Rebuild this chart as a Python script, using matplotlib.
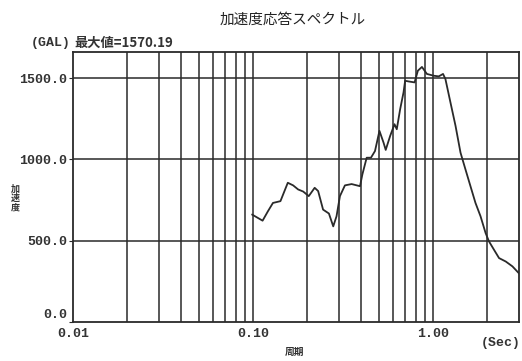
import matplotlib.pyplot as plt
import matplotlib.transforms as mtransforms
import numpy as np

plt.rcParams['font.family'] = ['Noto Sans CJK JP', 'DejaVu Sans']

# period (s) and response acceleration (gal)
period = [0.099, 0.113, 0.121, 0.129, 0.142, 0.156, 0.167, 0.178, 0.190, 0.204,
          0.220, 0.230, 0.245, 0.264, 0.279, 0.291, 0.304, 0.324, 0.353, 0.393,
          0.405, 0.428, 0.452, 0.476, 0.504, 0.531, 0.546, 0.578, 0.611, 0.629,
          0.657, 0.686, 0.700, 0.731, 0.790, 0.824, 0.868, 0.925, 1.009, 1.076,
          1.137, 1.172, 1.250, 1.334, 1.422, 1.515, 1.615, 1.722, 1.837, 1.960,
          2.046, 2.183, 2.328, 2.536, 2.763, 3.0]
accel = [660, 623, 681, 732, 743, 856, 840, 815, 802, 774,
         825, 805, 691, 667, 588, 650, 774, 840, 848, 835,
         907, 1010, 1010, 1051, 1175, 1103, 1058, 1144, 1216, 1185,
         1309, 1412, 1483, 1479, 1473, 1545, 1568, 1525, 1514, 1510,
         1525, 1494, 1350, 1206, 1041, 938, 835, 732, 650, 547,
         496, 444, 393, 372, 342, 300]

xgrid = [0.02, 0.03, 0.04, 0.05, 0.06, 0.07, 0.08, 0.09, 0.1,
         0.2, 0.3, 0.4, 0.5, 0.6, 0.7, 0.8, 0.9, 1.0, 2.0]
xticks = [0.01, 0.1, 1.0]
xlabels = ['0.01', '0.10', '1.00']
yticks = [0, 500, 1000, 1500]
ylabels = ['0.0', '500.0', '1000.0', '1500.0']

ink = '#2a2a2a'
fig = plt.figure(figsize=(5.22, 3.61), dpi=100)
ax = fig.add_axes([0.140, 0.108, 0.854, 0.748])
ax.set_xscale('log')
ax.set_xlim(0.01, 3.0)
ax.set_ylim(0, 1660)

for g in xgrid:
    ax.axvline(g, color=ink, lw=1.1)
for g in yticks[1:]:
    ax.axhline(g, color=ink, lw=1.1)

ax.plot(period, accel, color=ink, lw=1.3)

ax.set_xticks(xticks)
ax.set_xticklabels(xlabels)
ax.xaxis.set_minor_locator(plt.NullLocator())
ax.set_yticks(yticks)
ax.set_yticklabels(ylabels)
mono = dict(family='Liberation Mono', fontsize=9.5, fontweight='bold', color='#333333')
for t in ax.get_xticklabels() + ax.get_yticklabels():
    t.set(**mono)
ax.tick_params(axis='x', length=0, pad=4)
ax.tick_params(axis='y', length=3, pad=1, color=ink)
for s in ax.spines.values():
    s.set_color(ink)
    s.set_linewidth(1.3)

# the 0.0 label sits a little above the bottom frame in the original
lab0 = ax.get_yticklabels()[0]
lab0.set_transform(lab0.get_transform() +
                   mtransforms.ScaledTranslation(0, 6 / 72, fig.dpi_scale_trans))

fig.text(0.561, 0.945, '加速度応答スペクトル', ha='center', va='center',
         fontsize=10.5, color='#222222')
fig.text(0.058, 0.882, '(GAL)', ha='left', va='center', **mono)
fig.text(0.143, 0.882, '最大値=1570.19', ha='left', va='center',
         fontsize=9.5, fontweight='bold', color='#333333',
         family=['Noto Sans CJK JP', 'Liberation Mono'])
fig.text(0.998, 0.050, '(Sec)', ha='right', va='center', **mono)
fig.text(0.565, 0.024, '周期', ha='center', va='center', fontsize=7,
         fontweight='bold', color='#333333')
fig.text(0.029, 0.45, '加\n速\n度', ha='center', va='center', fontsize=6.5,
         fontweight='bold', color='#333333', linespacing=1.0)

fig.savefig('out.png', dpi=100)
